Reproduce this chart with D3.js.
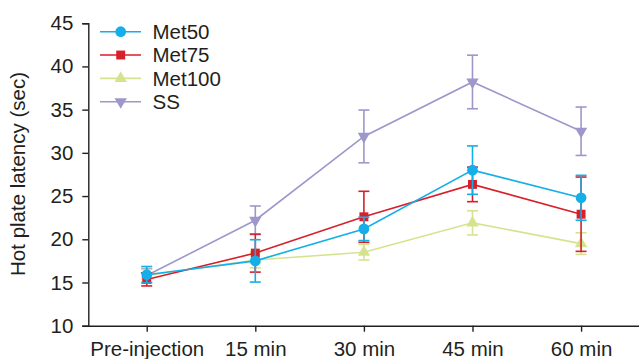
<!DOCTYPE html>
<html>
<head>
<meta charset="utf-8">
<script src="https://cdn.jsdelivr.net/npm/d3@7"></script>
<style>
  body { margin: 0; background: #fff; }
  text { font-family: "Liberation Sans", Arial, sans-serif; fill: #231f20; }
</style>
</head>
<body>
<div id="chart"></div>
<script>
// data
var timepoints = ["Pre-injection", "15 min", "30 min", "45 min", "60 min"]
var seriesNames = ["Met50", "Met75", "Met100", "SS"]
var met50 = [15.9, 17.5, 21.2, 28.0, 24.8]
var met50Err = [0.95, 2.45, 1.35, 2.8, 2.6]
var met75 = [15.35, 18.4, 22.6, 26.35, 22.9]
var met75Err = [0.75, 2.2, 2.95, 2.0, 4.3]
var met100 = [15.8, 17.6, 18.5, 21.9, 19.5]
var met100Err = [0.7, 0.9, 0.9, 1.4, 1.25]
var ss = [15.8, 22.2, 31.9, 38.2, 32.5]
var ssErr = [0.8, 1.65, 3.05, 3.1, 2.8]
var yTicks = [10, 15, 20, 25, 30, 35, 40, 45]

var width = 639, height = 359
var colors = ["#14aee9", "#d81f2a", "#d6e38e", "#9d97ca"]
var symbols = [d3.symbolCircle, d3.symbolSquare, d3.symbolTriangle, d3.symbolTriangle]
var symSize = [90, 80, 66, 66]
var rotations = [0, 0, 0, 180]
var fontSize = "20.5px"

var series = seriesNames.map(function (name, i) {
    var vals = [met50, met75, met100, ss][i]
    var errs = [met50Err, met75Err, met100Err, ssErr][i]
    return {
        name: name, i: i,
        values: vals.map(function (v, j) { return { t: timepoints[j], v: v, e: errs[j] } })
    }
})

var svg = d3.select("#chart").append("svg")
    .attr("width", width)
    .attr("height", height)

var xScale = d3.scalePoint()
    .domain(timepoints)
    .range([88.3, 639.5])
    .padding(0.538)

var yScale = d3.scaleLinear()
    .domain([10, 45])
    .range([325.7, 23.2])

// axes
svg.append("g")
    .attr("transform", "translate(0,325.7)")
    .call(d3.axisBottom(xScale).tickSize(6).tickSizeOuter(0).tickPadding(10))
svg.append("g")
    .attr("transform", "translate(88.3,0)")
    .call(d3.axisLeft(yScale).tickValues(yTicks).tickSize(6).tickSizeOuter(6).tickPadding(9))

svg.selectAll(".domain, .tick line")
    .attr("stroke", "#231f20")
    .attr("stroke-width", 1.4)
svg.selectAll(".tick text")
    .style("font-size", fontSize)
    .attr("fill", "#231f20")

// y label
svg.append("text")
    .attr("transform", "translate(25,174) rotate(-90)")
    .attr("text-anchor", "middle")
    .style("font-size", fontSize)
    .text("Hot plate latency (sec)")

var line = d3.line()
    .x(function (d) { return xScale(d.t) })
    .y(function (d) { return yScale(d.v) })

// draw SS first so Met50 ends up on top
var drawOrder = series.slice().reverse()
var capW = 5.5

drawOrder.forEach(function (s) {
    var g = svg.append("g")
    var c = colors[s.i]

    g.append("path")
        .datum(s.values)
        .attr("d", line)
        .attr("fill", "none")
        .attr("stroke", c)
        .attr("stroke-width", 1.6)

    var eb = g.selectAll("g.err")
        .data(s.values)
        .enter()
        .append("g")
        .attr("stroke", c)
        .attr("stroke-width", 1.6)
    eb.append("line")
        .attr("x1", function (d) { return xScale(d.t) })
        .attr("x2", function (d) { return xScale(d.t) })
        .attr("y1", function (d) { return yScale(d.v - d.e) })
        .attr("y2", function (d) { return yScale(d.v + d.e) })
    eb.append("line")
        .attr("x1", function (d) { return xScale(d.t) - capW })
        .attr("x2", function (d) { return xScale(d.t) + capW })
        .attr("y1", function (d) { return yScale(d.v + d.e) })
        .attr("y2", function (d) { return yScale(d.v + d.e) })
    eb.append("line")
        .attr("x1", function (d) { return xScale(d.t) - capW })
        .attr("x2", function (d) { return xScale(d.t) + capW })
        .attr("y1", function (d) { return yScale(d.v - d.e) })
        .attr("y2", function (d) { return yScale(d.v - d.e) })

    g.selectAll("path.mark")
        .data(s.values)
        .enter()
        .append("path")
        .attr("class", "mark")
        .attr("d", d3.symbol().type(symbols[s.i]).size(symSize[s.i]))
        .attr("transform", function (d) {
            return "translate(" + xScale(d.t) + "," + yScale(d.v) + ") rotate(" + rotations[s.i] + ")"
        })
        .attr("fill", c)
})

// legend
var legend = svg.append("g")
var rowY = d3.scaleLinear().domain([0, 3]).range([31.7, 101.7])
series.forEach(function (s) {
    var y = rowY(s.i)
    legend.append("line")
        .attr("x1", 100).attr("x2", 141)
        .attr("y1", y).attr("y2", y)
        .attr("stroke", colors[s.i])
        .attr("stroke-width", 1.6)
    legend.append("path")
        .attr("d", d3.symbol().type(symbols[s.i]).size(symSize[s.i]))
        .attr("transform", "translate(120.7," + y + ") rotate(" + rotations[s.i] + ")")
        .attr("fill", colors[s.i])
    legend.append("text")
        .attr("x", 152.5)
        .attr("y", y)
        .attr("dy", "0.36em")
        .style("font-size", fontSize)
        .text(s.name)
})
</script>
</body>
</html>
